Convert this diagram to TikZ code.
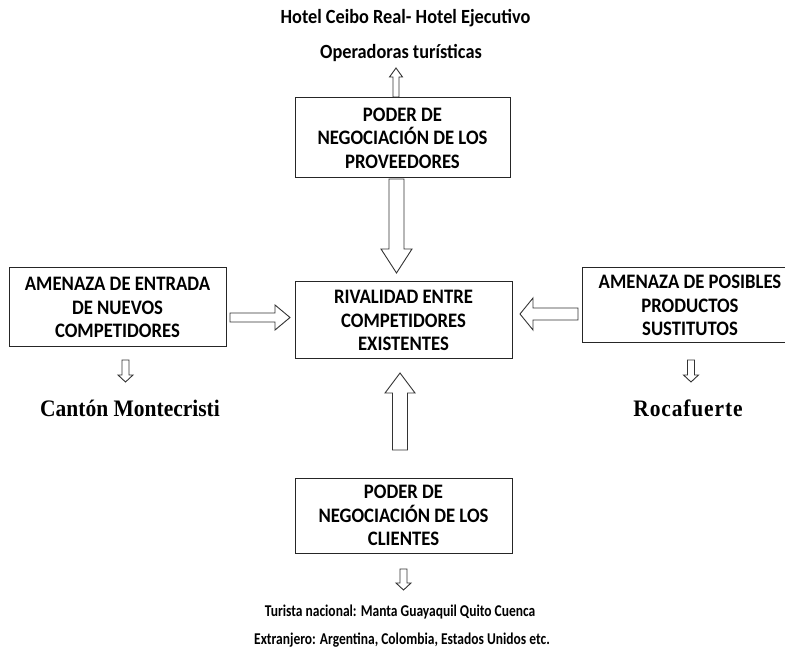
\documentclass[tikz,border=0pt]{standalone}
\usepackage{fontspec}
\usepackage{graphicx}
\setmainfont{Carlito}
\newfontfamily\timesfont{Liberation Serif}
\newfontfamily\timesspaced[LetterSpace=4]{Liberation Serif}
\newcommand\vs[1]{\scalebox{1}[1.1]{#1}}
\newcommand\vsb[1]{\scalebox{1}[1.22]{#1}}
\newcommand\vsl[1]{\scalebox{1}[1.1]{#1}}
\newcommand\vblock[6]{% x, y tail, y tip, half shaft, half head, signed head length
  \draw[blk] ({#1-#4},#2) -- ({#1-#4},{#3-#6}) -- ({#1-#5},{#3-#6}) -- (#1,#3) -- ({#1+#5},{#3-#6}) -- ({#1+#4},{#3-#6}) -- ({#1+#4},#2) -- cycle;}
\newcommand\hblock[6]{% y, x tail, x tip, half shaft, half head, signed head length
  \draw[blk] (#2,{#1-#4}) -- ({#3-#6},{#1-#4}) -- ({#3-#6},{#1-#5}) -- (#3,#1) -- ({#3-#6},{#1+#5}) -- ({#3-#6},{#1+#4}) -- (#2,{#1+#4}) -- cycle;}
\begin{document}
\begin{tikzpicture}[x=1pt,y=-1pt,
  box/.style={draw=black!85, line width=1pt, minimum width=217pt, align=center,
    font=\bfseries\fontsize{18.7}{23.5}\selectfont, inner sep=0pt},
  blk/.style={draw=black!80, line width=0.9pt, line join=miter},
  lbl/.style={font=\bfseries\fontsize{18.3}{20}\selectfont, inner sep=0pt},
  lbltwo/.style={font=\bfseries\fontsize{13.5}{16}\selectfont, inner sep=0pt},
  serif/.style={font=\bfseries\fontsize{21.5}{24}\selectfont, inner sep=0pt}]
\useasboundingbox (0,0) rectangle (785,652);
\clip (0,0) rectangle (785,652);
% boxes
\node[box, minimum width=215pt, minimum height=80pt] (prov) at (402.5,138) {\vs{PODER DE}\\\vs{NEGOCIACIÓN DE LOS}\\\vs{PROVEEDORES}};
\node[box, minimum height=77pt] (riv) at (403.5,320.5) {\vs{RIVALIDAD ENTRE}\\\vs{COMPETIDORES}\\\vs{EXISTENTES}};
\node[box, minimum height=79pt] (ent) at (117.5,307.5) {\vs{AMENAZA DE ENTRADA}\\\vs{DE NUEVOS}\\\vs{COMPETIDORES}};
\node[box, minimum width=216pt, minimum height=75pt] (sus) at (690,305.5) {\vs{AMENAZA DE POSIBLES}\\\vs{PRODUCTOS}\\\vs{SUSTITUTOS}};
\node[box, minimum height=75pt] (cli) at (403.5,515.5) {\vs{PODER DE}\\\vs{NEGOCIACIÓN DE LOS}\\\vs{CLIENTES}};
% labels
\node[lbl] (hotel) at (405.5,18) {\scalebox{1}[1.1]{Hotel Ceibo Real- Hotel Ejecutivo}};
\node[lbl] (oper) at (401,53) {\scalebox{1}[1.1]{Operadoras turísticas}};
\node[serif] (canton) at (130,408) {\vsl{\timesfont Cantón Montecristi}};
\node[serif] (roca) at (688,408) {\vsl{\timesspaced Rocafuerte}};
\node[lbltwo] (tur) at (400,612) {\vsb{Turista nacional: Manta Guayaquil Quito Cuenca}};
\node[lbltwo] (ext) at (402,640) {\vsb{Extranjero: Argentina, Colombia, Estados Unidos etc.}};
% block arrows
\vblock{396}{97}{68}{3}{6.5}{-9}
\vblock{396.5}{179}{273}{7.5}{15.5}{24}
\vblock{400}{450}{373}{7.5}{15}{-20}
\vblock{125.5}{360}{382}{3.5}{7.5}{7}
\vblock{691}{360}{382}{3.5}{7.5}{7}
\vblock{403.5}{569}{590}{3.5}{7.5}{7}
\hblock{317.5}{230}{290}{4.5}{12.5}{15}
\hblock{314}{578}{520}{6}{16}{-13}
\end{tikzpicture}
\end{document}
